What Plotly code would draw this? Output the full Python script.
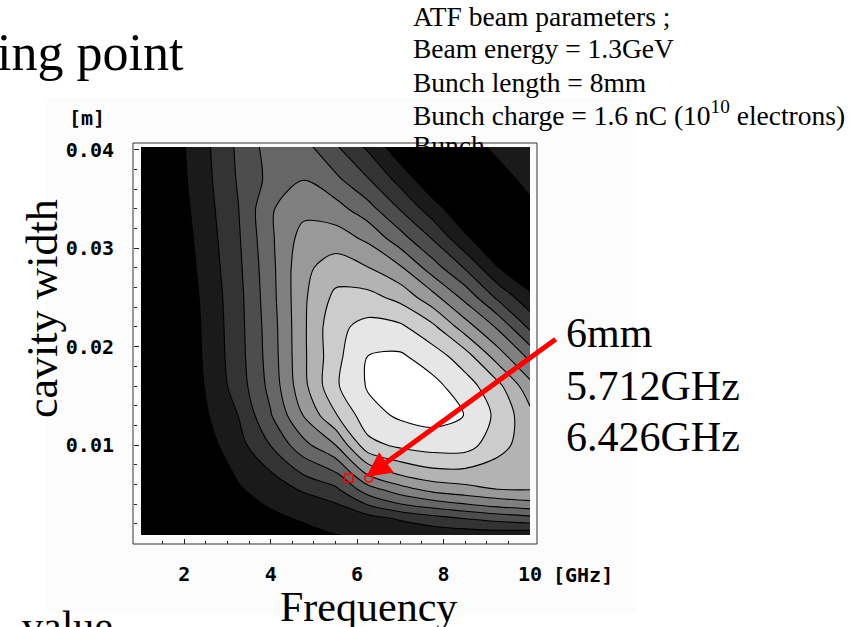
import plotly.graph_objects as go

# ---------------- data ----------------
freq_ghz = [1.0, 1.75, 2.5, 3.25, 4.0, 4.75, 5.5, 6.25, 7.0, 7.75, 8.5, 9.25, 10.0]
width_m = [0.0008, 0.0025, 0.004, 0.0055, 0.007, 0.010, 0.013, 0.016,
           0.019, 0.022, 0.025, 0.028, 0.031, 0.034, 0.037, 0.0404]
# contour level (band index 0..10) estimated at each grid point, rows follow width_m
level = [
    [-3.8, -2.5, -1.6, 0.10, 0.36, 0.60, 0.97, 1.15, 1.20, 1.30, 1.35, 1.40, 1.30],
    [-3.5, -2.2, -1.2, 0.35, 0.74, 1.12, 1.43, 1.60, 2.10, 2.56, 2.99, 3.32, 3.58],
    [-3.2, -1.9, -0.6, 0.60, 1.13, 1.54, 1.93, 3.08, 3.98, 4.53, 4.98, 5.40, 5.69],
    [-2.8, -1.5, -0.2, 0.89, 1.50, 2.12, 2.80, 4.58, 5.60, 6.35, 6.71, 7.00, 7.05],
    [-2.4, -1.1, 0.12, 1.14, 1.88, 3.00, 3.78, 6.05, 7.06, 7.59, 7.62, 7.51, 7.25],
    [-1.9, -0.6, 0.60, 1.62, 3.03, 4.67, 6.00, 8.68, 9.22, 9.48, 9.45, 8.35, 7.50],
    [-1.7, -0.44, 0.89, 2.01, 3.92, 6.00, 7.90, 9.65, 10.15, 10.35, 9.98, 8.75, 7.30],
    [-1.5, -0.20, 1.07, 2.46, 4.31, 6.69, 8.85, 10.10, 10.45, 10.30, 9.45, 8.30, 6.35],
    [-1.44, -0.14, 1.16, 2.58, 4.45, 6.79, 8.70, 10.02, 10.15, 9.50, 8.47, 6.56, 4.73],
    [-1.4, -0.10, 1.20, 2.63, 4.51, 6.80, 8.75, 9.31, 9.19, 8.23, 6.50, 4.85, 2.78],
    [-1.32, -0.02, 1.27, 2.67, 4.62, 6.81, 8.25, 8.34, 7.70, 6.36, 4.71, 2.82, 1.28],
    [-1.2, 0.10, 1.38, 2.77, 4.69, 6.76, 7.48, 7.05, 6.15, 4.49, 2.92, 1.06, -0.05],
    [-1.08, 0.22, 1.49, 2.87, 4.82, 6.40, 6.50, 5.80, 4.41, 2.93, 1.19, 0.10, -0.20],
    [-0.96, 0.34, 1.61, 2.97, 4.90, 5.70, 5.41, 4.39, 2.94, 1.45, 0.15, 0.15, 0.70],
    [-0.84, 0.46, 1.72, 3.10, 4.30, 4.98, 4.23, 3.07, 1.63, 0.20, 0.10, 0.50, 1.37],
    [-0.76, 0.54, 1.80, 3.19, 4.45, 4.35, 3.10, 1.78, 0.27, -0.10, 0.50, 1.30, 1.50],
]

marker_freq = [5.81, 6.27]
marker_width = [0.00664, 0.00664]
arrow_tip = (6.21, 0.00674)

x_ticks = [2, 4, 6, 8, 10]
y_ticks = [0.01, 0.02, 0.03, 0.04]

info_lines = ["ATF beam parameters ;", "Beam energy = 1.3GeV", "Bunch length = 8mm",
              "Bunch charge = 1.6 nC (10<sup>10</sup> electrons)", "Bunch"]
point_lines = ["6mm", "5.712GHz", "6.426GHz"]

# ---------------- layout helpers ----------------
W, H = 854, 627
ML, MR, MT, MB = 133, 317, 143, 83
PW, PH = W - ML - MR, H - MT - MB


def fx(p):
    return (p - ML) / PW


def fy(p):
    return (H - MB - p) / PH


SERIF = "Liberation Serif"
MONO = "DejaVu Sans Mono"

fig = go.Figure()
fig.add_trace(go.Contour(
    x=freq_ghz, y=width_m, z=level,
    colorscale=[[0, "rgb(0,0,0)"], [1, "rgb(255,255,255)"]],
    contours=dict(start=1, end=10, size=1, coloring="fill", showlines=True),
    line=dict(color="black", width=1.1, smoothing=0.9),
    showscale=False, hoverinfo="skip",
))
fig.add_trace(go.Scatter(
    x=marker_freq, y=marker_width, mode="markers",
    marker=dict(symbol=["square-open", "circle-open"], size=8, color="red",
                line=dict(width=1.5, color="red")),
    showlegend=False, hoverinfo="skip",
))

tick_common = dict(showgrid=False, zeroline=False, showline=False,
                   ticks="inside", tickcolor="#222", tickwidth=1)
tick_font = dict(family=MONO, size=20, color="black", weight="bold")

fig.update_layout(
    width=W, height=H,
    margin=dict(l=ML, r=MR, t=MT, b=MB, pad=0),
    paper_bgcolor="white", plot_bgcolor="rgba(0,0,0,0)",
    showlegend=False,
    xaxis=dict(domain=[fx(141), fx(530)], range=[1, 10], anchor="free", position=0,
               tickmode="array", tickvals=x_ticks, ticktext=[str(v) for v in x_ticks],
               ticklen=5, minor=dict(ticks="inside", ticklen=3, dtick=0.5, tick0=0, tickcolor="#222"),
               tickfont=tick_font, ticklabelstandoff=16, **tick_common),
    xaxis2=dict(domain=[fx(141), fx(530)], range=[1, 10], overlaying="x", anchor="free", position=1,
                side="top", showticklabels=False, tickmode="array", tickvals=x_ticks, ticklen=5,
                minor=dict(ticks="inside", ticklen=3, dtick=0.5, tick0=0, tickcolor="#222"),
                **tick_common),
    yaxis=dict(domain=[fy(535), fy(147)], range=[0.00085, 0.0403], anchor="free", position=0,
               tickmode="array", tickvals=y_ticks, ticktext=["%.2f" % v for v in y_ticks],
               ticklen=5, minor=dict(ticks="inside", ticklen=3, dtick=0.002, tick0=0, tickcolor="#222"),
               tickfont=tick_font, ticklabelstandoff=19, **tick_common),
    yaxis2=dict(domain=[fy(535), fy(147)], range=[0.00085, 0.0403], overlaying="y", anchor="free",
                position=1, side="right", showticklabels=False, tickmode="array", tickvals=y_ticks,
                ticklen=5, minor=dict(ticks="inside", ticklen=3, dtick=0.002, tick0=0, tickcolor="#222"),
                **tick_common),
    shapes=[
        dict(type="rect", xref="paper", yref="paper", x0=fx(45), x1=fx(636), y0=fy(613), y1=fy(98),
             fillcolor="#fcfcfc", line=dict(width=0), layer="below"),
        dict(type="rect", xref="paper", yref="paper", x0=0, x1=1, y0=0, y1=1,
             line=dict(color="#333", width=1), layer="above"),
    ],
)

ann = []
# title fragment
ann.append(dict(text="ing point", x=fx(186), y=fy(52), xanchor="right", yanchor="middle",
                font=dict(family=SERIF, size=52, color="black")))
# beam parameter block
info_y = [16, 48, 82, 114, 145]
for t, yy in zip(info_lines, info_y):
    ann.append(dict(text=t, x=fx(411), y=fy(yy), xanchor="left", yanchor="middle",
                    font=dict(family=SERIF, size=27.5, color="black")))
# working point labels
pt_y = [333, 386, 437]
for t, yy in zip(point_lines, pt_y):
    ann.append(dict(text=t, x=fx(564), y=fy(yy), xanchor="left", yanchor="middle",
                    font=dict(family=SERIF, size=42, color="black")))
# axis titles
ann.append(dict(text="cavity width", x=fx(42), y=fy(309), xanchor="center", yanchor="middle",
                textangle=-90, font=dict(family=SERIF, size=44, color="black")))
ann.append(dict(text="Frequency", x=fx(368), y=fy(607), xanchor="center", yanchor="middle",
                font=dict(family=SERIF, size=42, color="black")))
ann.append(dict(text="value", x=fx(67), y=fy(626), xanchor="center", yanchor="middle",
                font=dict(family=SERIF, size=42, color="black")))
ann.append(dict(text="[GHz]", x=fx(583), y=fy(575), xanchor="center", yanchor="middle",
                font=dict(family=MONO, size=20, color="black", weight="bold")))
ann.append(dict(text="[m]", x=fx(87), y=fy(118), xanchor="center", yanchor="middle",
                font=dict(family=MONO, size=20, color="black", weight="bold")))
for a in ann:
    a.update(xref="paper", yref="paper", showarrow=False)

# red arrow pointing at the working point
ann.append(dict(text="", x=arrow_tip[0], y=arrow_tip[1], xref="x", yref="y",
                ax=191, ay=-139, showarrow=True, arrowhead=2, arrowsize=1,
                arrowwidth=5, arrowcolor="red", standoff=0))

fig.update_layout(annotations=ann)
fig.write_html("out.html")
